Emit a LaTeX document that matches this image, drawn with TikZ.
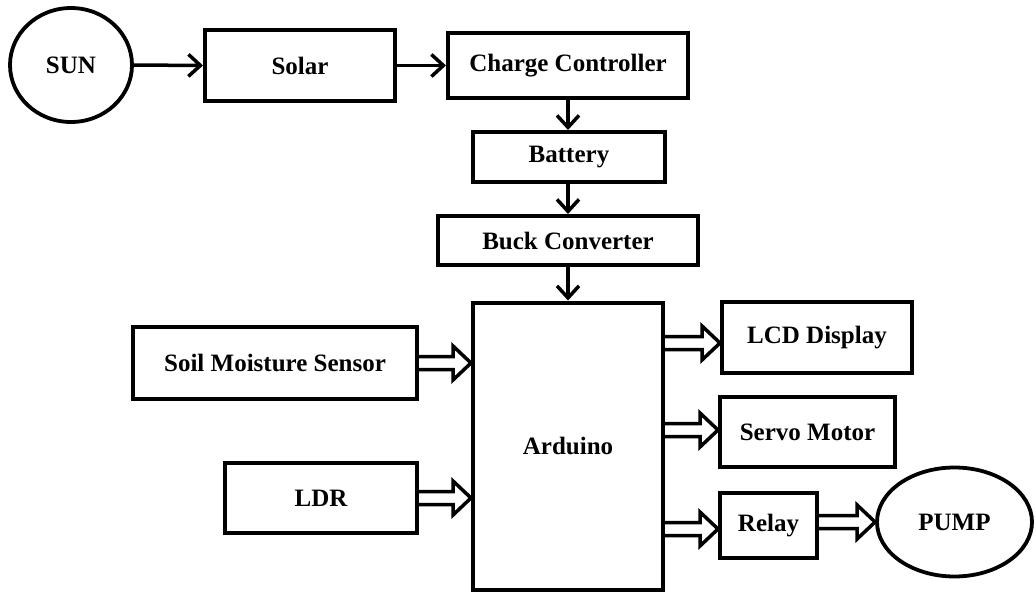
\documentclass[tikz,border=0pt]{standalone}
\usepackage{fontspec}
\setmainfont{Liberation Serif}
\usetikzlibrary{shapes.geometric,arrows.meta,calc}
\newcommand{\harr}[2]{\draw[harrow] let \p1=(#1), \p2=(#2) in
  (\x1,\y2+6.5pt) -- (\x2-18pt,\y2+6.5pt) -- (\x2-18pt,\y2+17pt) -- (\x2,\y2)
  -- (\x2-18pt,\y2-17pt) -- (\x2-18pt,\y2-6.5pt) -- (\x1,\y2-6.5pt);}
\begin{document}
\begin{tikzpicture}[x=1pt,y=-1pt,
  lbl/.style={font=\fontsize{25}{30}\selectfont\bfseries},
  box/.style={draw,line width=4pt,rectangle,inner sep=0pt,lbl},
  oval/.style={draw,line width=3.8pt,ellipse,inner sep=0pt,lbl},
  sarrow/.style={line width=3.5pt,-{Straight Barb[length=12pt,width=22pt]}},
  harrow/.style={line width=3.5pt,line join=miter}]
\useasboundingbox (0,0) rectangle (1036,592);
\node[oval,minimum width=122pt,minimum height=114pt] (sun) at (71,65) {SUN};
\node[box,minimum width=190pt,minimum height=71pt] (solar) at (300,65.5) {Solar};
\node[box,minimum width=240pt,minimum height=65pt] (cc) at (568,65.5) {Charge Controller};
\node[box,minimum width=192pt,minimum height=50pt] (battery) at (569,157) {Battery};
\node[box,minimum width=260pt,minimum height=49pt] (buck) at (568,240.5) {Buck Converter};
\node[box,minimum width=190pt,minimum height=287pt] (arduino) at (568,446) {Arduino};
\node[box,minimum width=284pt,minimum height=72pt] (soil) at (275,363) {Soil Moisture Sensor};
\node[box,minimum width=192pt,minimum height=70pt] (ldr) at (321,498) {LDR};
\node[box,minimum width=190pt,minimum height=71pt] (lcd) at (817,337.5) {LCD Display};
\node[box,minimum width=175pt,minimum height=70pt] (servo) at (807.5,432) {Servo Motor};
\node[box,minimum width=97pt,minimum height=65pt] (relay) at (768.5,525.5) {Relay};
\node[oval,minimum width=155pt,minimum height=109pt] (pump) at (954.5,522) {PUMP};

\draw[sarrow] (sun.east) -- (solar.west);
\draw[sarrow] (solar.east) -- (cc.west);
\draw[sarrow] (cc.south) -- (cc.south |- battery.north);
\draw[sarrow] (cc.south |- battery.south) -- (cc.south |- buck.north);
\draw[sarrow] (buck.south) -- (buck.south |- arduino.north);

\harr{soil.east}{arduino.west |- soil.east}
\harr{ldr.east}{arduino.west |- ldr.east}
\harr{arduino.east}{[yshift=-5.5pt]lcd.west}
\harr{arduino.east}{[yshift=2pt]servo.west}
\harr{arduino.east}{[yshift=-3.5pt]relay.west}
\harr{relay.east}{pump.west}
\end{tikzpicture}
\end{document}
